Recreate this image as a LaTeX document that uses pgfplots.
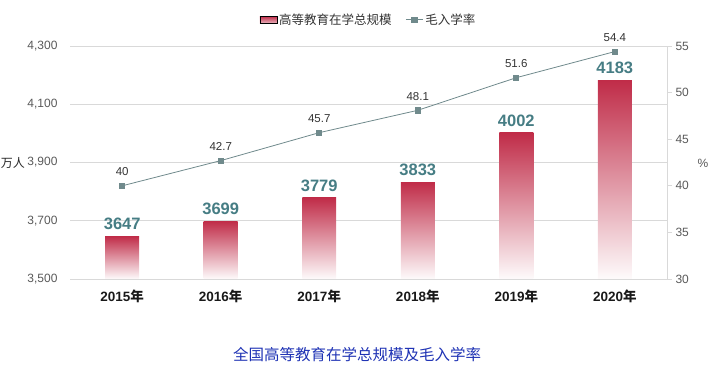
\documentclass[border=0pt]{standalone}
\usepackage{fontspec}
\setmainfont{Liberation Sans}
\newfontfamily\cjk{Noto Sans CJK SC}
\usepackage{pgfplots}
\usepackage{pgfplotstable}
\pgfplotsset{compat=1.18}
\definecolor{barred}{RGB}{192,44,72}
\definecolor{lblteal}{RGB}{70,125,132}
\definecolor{linec}{RGB}{112,138,140}
\definecolor{gridc}{RGB}{217,217,217}
\definecolor{tickc}{RGB}{89,89,89}
\definecolor{capblue}{RGB}{30,50,180}
\pgfplotstableread{
x v
0 3647
1 3699
2 3779
3 3833
4 4002
5 4183
}\bardata
\pgfplotstableread{
x r
0 40
1 42.7
2 45.7
3 48.1
4 51.6
5 54.4
}\ratedata
\pgfplotsset{common/.style={
  at={(70pt,93pt)}, anchor=south west,
  scale only axis, width=597pt, height=233pt,
  xmin=-0.53, xmax=5.53,
  /pgf/number format/assume math mode=true}}
\begin{document}
\begin{tikzpicture}
\path[use as bounding box] (0pt,0pt) rectangle (712pt,372pt);
\begin{axis}[common, name=ax1,
  ymin=3500, ymax=4300,
  ytick={3500,3700,...,4300},
  xtick={0,...,5},
  xticklabels={{\bfseries 2015\cjk\bfseries 年},{\bfseries 2016\cjk\bfseries 年},{\bfseries 2017\cjk\bfseries 年},{\bfseries 2018\cjk\bfseries 年},{\bfseries 2019\cjk\bfseries 年},{\bfseries 2020\cjk\bfseries 年}},
  axis line style={draw=none},
  major tick length=0pt,
  ymajorgrids, grid style={gridc, line width=0.8pt},
  yticklabel style={font=\fontsize{12}{12}\selectfont, text=tickc, xshift=-9pt, /pgf/number format/1000 sep={,}},
  xticklabel style={font=\fontsize{13.5}{13.5}\selectfont, text=black!90, yshift=-7pt},
]
\addplot[draw=none] coordinates {(0,3500)};
\end{axis}
\begin{axis}[common, name=ax3, hide axis,
  ymin=0, ymax=800,
  ybar, bar width=0.345, bar shift=0pt, clip=false,
]
\pgfplotsinvokeforeach{0,...,5}{
\addplot[draw=none, top color=barred, middle color=barred!82, bottom color=barred!2,
  restrict x to domain=#1:#1,
  point meta=explicit symbolic,
  nodes near coords,
  nodes near coords style={font=\bfseries\fontsize{16.5}{16.5}\selectfont, text=lblteal, anchor=south, yshift=3pt}]
  table[x=x, y expr=\thisrow{v}-3500, meta=v] {\bardata};
}
\end{axis}
\begin{axis}[common, name=ax2,
  ymin=30, ymax=55,
  ytick={30,35,...,55},
  axis y line*=right, axis x line=none,
  y axis line style={gridc, line width=0.8pt},
  ytick style={gridc, line width=0.8pt},
  tick align=outside, major tick length=5pt,
  yticklabel style={font=\fontsize{12}{12}\selectfont, text=tickc},
  legend style={at={(0.5,1)}, anchor=south, yshift=16pt, draw=none, fill=none,
    font=\cjk\fontsize{12.5}{12.5}\selectfont, text=black!80, legend columns=2,
    /tikz/every even column/.append style={column sep=12pt}},
  clip=false,
]
\addlegendimage{legend image code/.code={\fill[top color=barred, bottom color=barred!35] (0pt,-3.5pt) rectangle (17pt,3.5pt);}}
\addlegendentry{高等教育在学总规模}
\addplot[linec, line width=0.8pt, mark=square*, mark size=2.6pt, mark options={fill=linec},
  nodes near coords, point meta=explicit symbolic,
  nodes near coords style={font=\fontsize{11.5}{11.5}\selectfont, text=black!80, anchor=south, yshift=6pt}]
  table[x=x, y=r, meta=r] {\ratedata};
\addlegendentry{毛入学率}
\end{axis}
\node[font=\cjk\fontsize{12}{12}\selectfont, text=black!85] at (13pt,209pt) {万人};
\node[font=\fontsize{12}{12}\selectfont, text=tickc] at (703pt,209pt) {\%};
\node[font=\cjk\fontsize{15.5}{15.5}\selectfont, text=capblue] at (357pt,17pt) {全国高等教育在学总规模及毛入学率};
\end{tikzpicture}
\end{document}
